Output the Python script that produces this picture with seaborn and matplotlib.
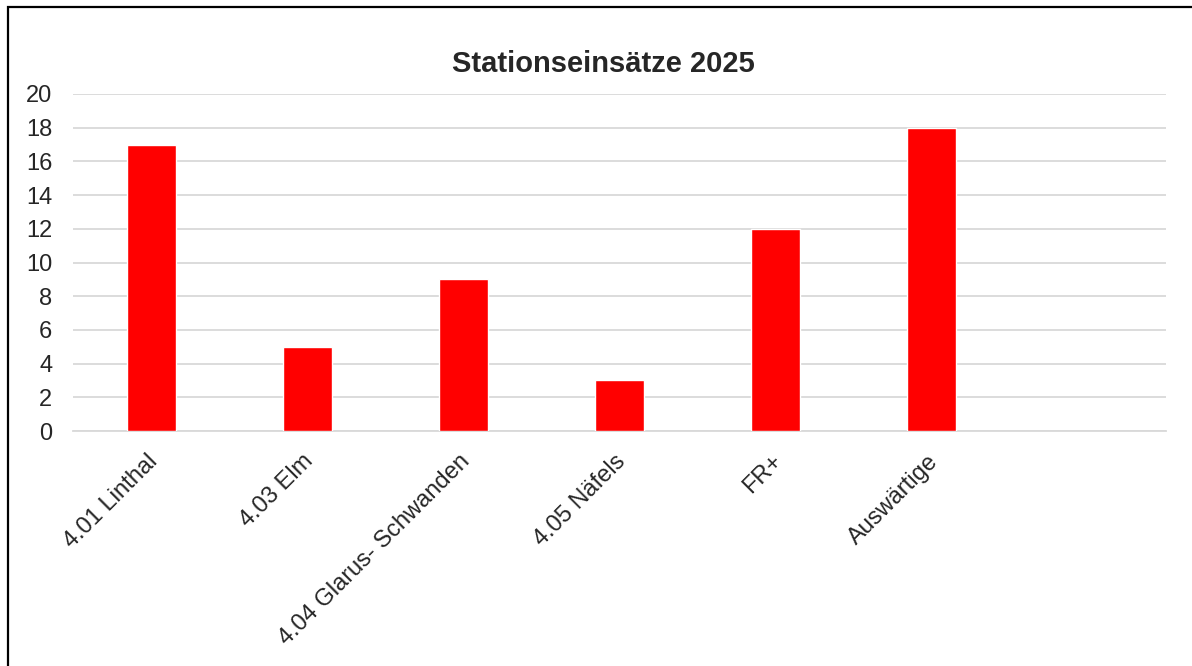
import matplotlib
matplotlib.use("Agg")
import matplotlib.pyplot as plt
import matplotlib.transforms as mtransforms
import seaborn as sns
import pandas as pd
from matplotlib.patches import Rectangle

# Daten
stationen = ["4.01 Linthal", "4.03 Elm", "4.04 Glarus- Schwanden",
             "4.05 Näfels", "FR+", "Auswärtige"]
einsaetze = [17, 5, 9, 3, 12, 18]
y_ticks = [0, 2, 4, 6, 8, 10, 12, 14, 16, 18, 20]

df = pd.DataFrame({"Station": stationen, "Einsätze": einsaetze})

sns.set_theme(style="white")
plt.rcParams["font.family"] = ["Liberation Sans", "DejaVu Sans"]
text_col = "#262626"
grid_col = "#d9d9d9"

fig = plt.figure(figsize=(11.92, 6.66), dpi=100)
ax = fig.add_axes([73 / 1192, 1 - 431 / 666, (1166 - 73) / 1192, (431 - 94) / 666])

sns.barplot(data=df, x="Station", y="Einsätze", color="#ff0000",
            width=0.314, saturation=1, ax=ax, zorder=3)

ax.set_xlim(-0.5, 6.5)  # Excel lässt rechts eine leere Kategorie frei
ax.set_ylim(0, 20)
ax.set_yticks(y_ticks)
ax.yaxis.grid(True, color=grid_col, linewidth=1.3, zorder=0)
ax.set_axisbelow(True)
for side in ["top", "right", "left"]:
    ax.spines[side].set_visible(False)
ax.spines["bottom"].set_color(grid_col)
ax.spines["bottom"].set_linewidth(1.3)
ax.set_xlabel("")
ax.set_ylabel("")

ax.tick_params(axis="y", length=0, pad=15, labelsize=17, labelcolor=text_col)
ax.tick_params(axis="x", length=0, pad=14, labelsize=17, labelcolor=text_col)
shift = mtransforms.ScaledTranslation(-5 / 100, 0, fig.dpi_scale_trans)
for lbl in ax.get_xticklabels():
    lbl.set_rotation(45)
    lbl.set_ha("right")
    lbl.set_va("top")
    lbl.set_rotation_mode("anchor")
    lbl.set_transform(lbl.get_transform() + shift)

fig.text(603 / 1192, 1 - 72 / 666, "Stationseinsätze 2025", ha="center",
         va="baseline", fontsize=21, fontweight="bold", color=text_col)

# Rahmen um das Diagramm (rechts und unten abgeschnitten)
fig.patches.append(Rectangle((8 / 1192, -0.1), 1.2, 1.1 - 7 / 666,
                             transform=fig.transFigure, fill=False,
                             edgecolor="black", linewidth=1.6))

fig.savefig("out.png", dpi=100, facecolor="white")
